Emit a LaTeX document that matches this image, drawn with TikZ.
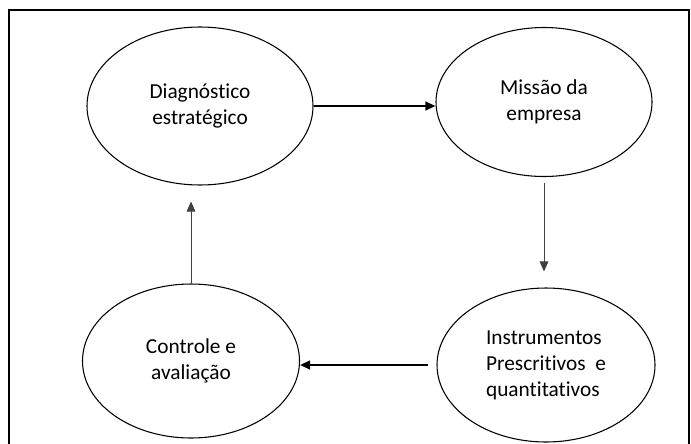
\documentclass[tikz,border=0pt]{standalone}
\usepackage{fontspec}
\setmainfont{Carlito}[Ligatures=NoCommon]
\usetikzlibrary{shapes.geometric,arrows.meta}
\begin{document}
\begin{tikzpicture}[x=0.75pt,y=-0.75pt,
    bubble/.style={draw,ellipse,line width=0.8pt,inner sep=0pt,align=center,
      font=\fontsize{16}{19.5}\selectfont},
    thick arrow/.style={-{Triangle[length=7.5pt,width=6.5pt]},line width=1.5pt},
    thin arrow/.style={-{Triangle[length=7.5pt,width=6.5pt]},line width=0.6pt,draw=black!75}]
    \useasboundingbox (0,0) rectangle (691,443);
    \draw[line width=0.8pt] (9,10) rectangle (689,470);
    \node[bubble,minimum width=169.5pt,minimum height=118.5pt] (D) at (200,106) {Diagnóstico\\estratégico};
    \node[bubble,minimum width=162pt,minimum height=111.75pt] (M) at (544,102) {Missão da\\empresa};
    \node[bubble,minimum width=163.5pt,minimum height=115.5pt,align=left] (I) at (546,365) {Instrumentos\\Prescritivos\ \ e\\quantitativos};
    \node[bubble,minimum width=162.75pt,minimum height=115.5pt] (C) at (191,361) {Controle e\\avaliação};
    \draw[thick arrow] (D.east) to (D.east -| M.west);
    \draw[thin arrow,shorten <=4.5pt,shorten >=12pt] (M.south) to (M.south |- I.north);
    \draw[thick arrow,shorten <=6.5pt] (I.west) to (I.west -| C.east);
    \draw[thin arrow,shorten >=12pt] (C.north) to (C.north |- D.south);
\end{tikzpicture}
\end{document}
